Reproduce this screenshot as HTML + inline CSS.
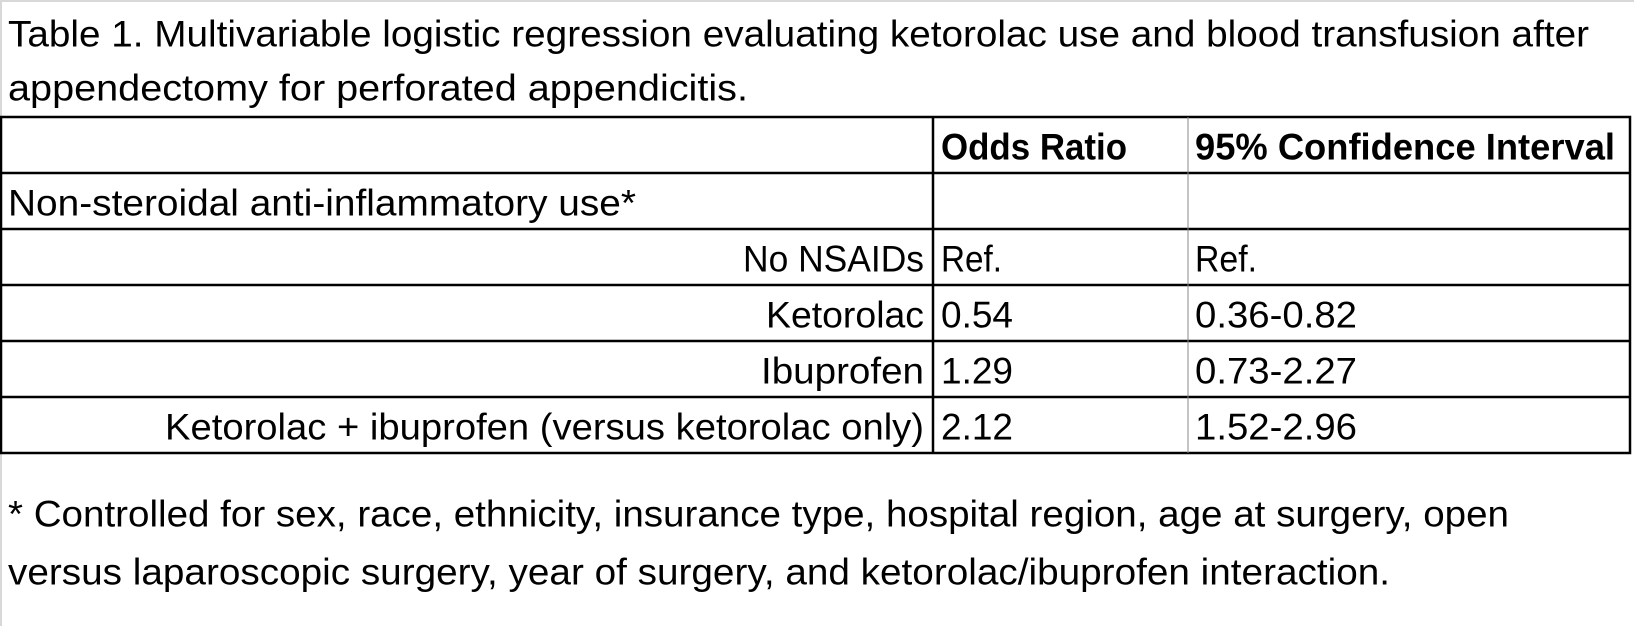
<!DOCTYPE html>
<html><head><meta charset="utf-8"><style>
html,body{margin:0;padding:0;background:#fff;}
svg{display:block;}
text{font-family:"Liberation Sans",sans-serif;font-size:37px;fill:#000;dominant-baseline:central;}
.b{font-weight:bold;}
</style></head><body>
<svg width="1634" height="626" viewBox="0 0 1634 626">
<rect x="0" y="0" width="1634" height="626" fill="#fff"/>
<line x1="1" y1="0" x2="1" y2="626" stroke="#d8d8d8" stroke-width="2"/>
<line x1="0" y1="1" x2="1634" y2="1" stroke="#d8d8d8" stroke-width="2"/>
<text x="8" y="34" textLength="1581" lengthAdjust="spacingAndGlyphs">Table 1. Multivariable logistic regression evaluating ketorolac use and blood transfusion after</text>
<text x="8" y="88" textLength="740" lengthAdjust="spacingAndGlyphs">appendectomy for perforated appendicitis.</text>
<g stroke="#000" stroke-width="2.5">
<rect x="1" y="117" width="1629" height="336" fill="none"/>
<line x1="1" y1="173" x2="1630" y2="173"/>
<line x1="1" y1="229" x2="1630" y2="229"/>
<line x1="1" y1="285" x2="1630" y2="285"/>
<line x1="1" y1="341" x2="1630" y2="341"/>
<line x1="1" y1="397" x2="1630" y2="397"/>
<line x1="933" y1="117" x2="933" y2="453"/>
<line x1="1188" y1="117" x2="1188" y2="453" stroke-width="1" stroke="#888"/>
</g>
<text class="b" x="941" y="147" textLength="186" lengthAdjust="spacingAndGlyphs">Odds Ratio</text>
<text class="b" x="1195" y="147" textLength="420" lengthAdjust="spacingAndGlyphs">95% Confidence Interval</text>
<text x="8" y="203" textLength="628" lengthAdjust="spacingAndGlyphs">Non-steroidal anti-inflammatory use*</text>
<text x="743" y="259" textLength="181" lengthAdjust="spacingAndGlyphs">No NSAIDs</text>
<text x="941" y="259" textLength="61" lengthAdjust="spacingAndGlyphs">Ref.</text>
<text x="1195" y="259" textLength="62" lengthAdjust="spacingAndGlyphs">Ref.</text>
<text x="766" y="315" textLength="158" lengthAdjust="spacingAndGlyphs">Ketorolac</text>
<text x="941" y="315" textLength="72" lengthAdjust="spacingAndGlyphs">0.54</text>
<text x="1195" y="315" textLength="162" lengthAdjust="spacingAndGlyphs">0.36-0.82</text>
<text x="761" y="371" textLength="163" lengthAdjust="spacingAndGlyphs">Ibuprofen</text>
<text x="941" y="371" textLength="72" lengthAdjust="spacingAndGlyphs">1.29</text>
<text x="1195" y="371" textLength="162" lengthAdjust="spacingAndGlyphs">0.73-2.27</text>
<text x="165" y="427" textLength="759" lengthAdjust="spacingAndGlyphs">Ketorolac + ibuprofen (versus ketorolac only)</text>
<text x="941" y="427" textLength="72" lengthAdjust="spacingAndGlyphs">2.12</text>
<text x="1195" y="427" textLength="162" lengthAdjust="spacingAndGlyphs">1.52-2.96</text>
<text x="8" y="514" textLength="1501" lengthAdjust="spacingAndGlyphs">* Controlled for sex, race, ethnicity, insurance type, hospital region, age at surgery, open</text>
<text x="8" y="572" textLength="1382" lengthAdjust="spacingAndGlyphs">versus laparoscopic surgery, year of surgery, and ketorolac/ibuprofen interaction.</text>
</svg>
</body></html>
